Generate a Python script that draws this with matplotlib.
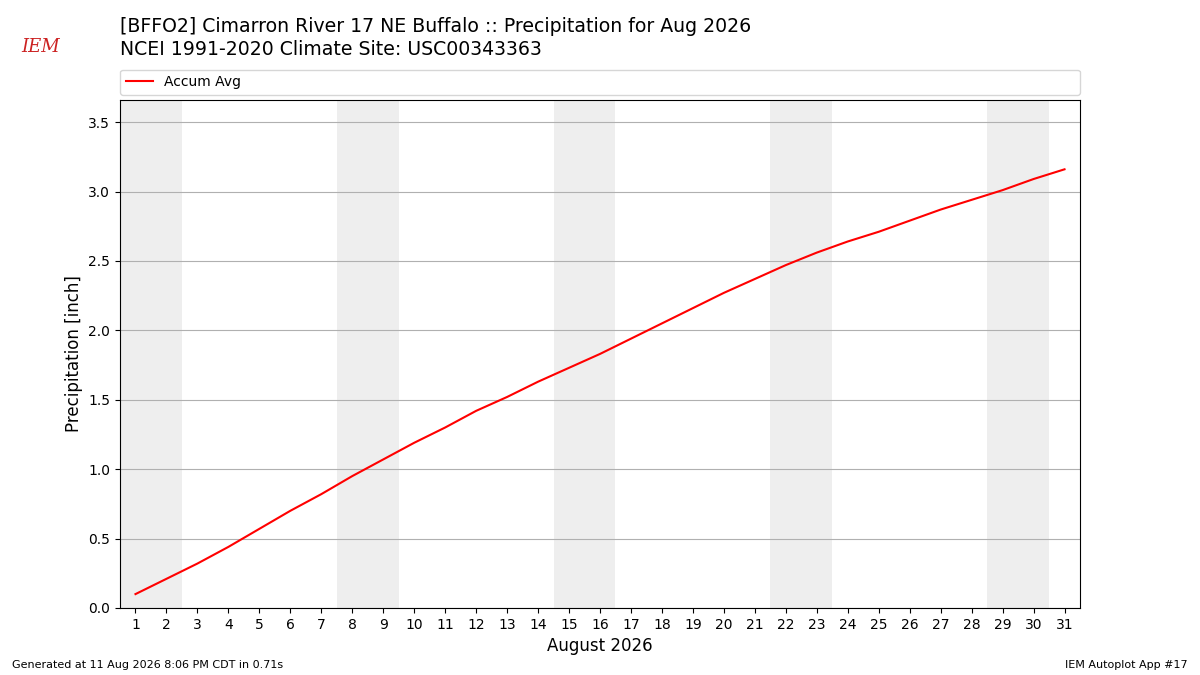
import numpy as np
import matplotlib
matplotlib.use("Agg")
import matplotlib.pyplot as plt

# donnees (cumul moyen, pouces)
days = list(range(1, 32))
accum_avg = [0.10, 0.21, 0.32, 0.44, 0.57, 0.70, 0.82, 0.95, 1.07, 1.19,
             1.30, 1.42, 1.52, 1.63, 1.73, 1.83, 1.94, 2.05, 2.16, 2.27,
             2.37, 2.47, 2.56, 2.64, 2.71, 2.79, 2.87, 2.94, 3.01, 3.09, 3.16]
weekend_starts = [1, 8, 15, 22, 29]

title = ("[BFFO2] Cimarron River 17 NE Buffalo :: Precipitation for Aug 2026\n"
         "NCEI 1991-2020 Climate Site: USC00343363")

fig = plt.figure(figsize=(12, 6.75), dpi=100)
ax = fig.add_axes([0.1, 0.0993, 0.8, 0.7527])

for d in weekend_starts:
    ax.axvspan(d - 0.5, d + 1.5, color="#eeeeee", zorder=0, lw=0)

ax.plot(days, accum_avg, color="red", lw=1.5, label="Accum Avg", zorder=3)

ax.set_xlim(0.5, 31.5)
ax.set_ylim(0, 3.66)
ax.set_xticks(days)
ax.set_yticks(np.arange(0, 3.51, 0.5))
ax.yaxis.grid(True, color="#b0b0b0", lw=0.8)
ax.set_axisbelow(True)
ax.set_xlabel("August 2026", fontsize=12)
ax.set_ylabel("Precipitation [inch]", fontsize=12)

ax.legend(loc="lower left", bbox_to_anchor=(0, 1.01, 1, 0.05), mode="expand",
          ncol=1, fontsize=10, borderaxespad=0)

fig.text(0.1, 0.913, title, fontsize=13.6, va="bottom", ha="left", linespacing=1.25)

# logo approximatif
fig.text(0.018, 0.93, "IEM", color="#cc2222", fontsize=13, style="italic",
         family="serif", ha="left", va="center")

fig.text(0.01, 0.01, "Generated at 11 Aug 2026 8:06 PM CDT in 0.71s", fontsize=8)
fig.text(0.99, 0.01, "IEM Autoplot App #17", fontsize=8, ha="right")

fig.savefig("out.png", dpi=100)
